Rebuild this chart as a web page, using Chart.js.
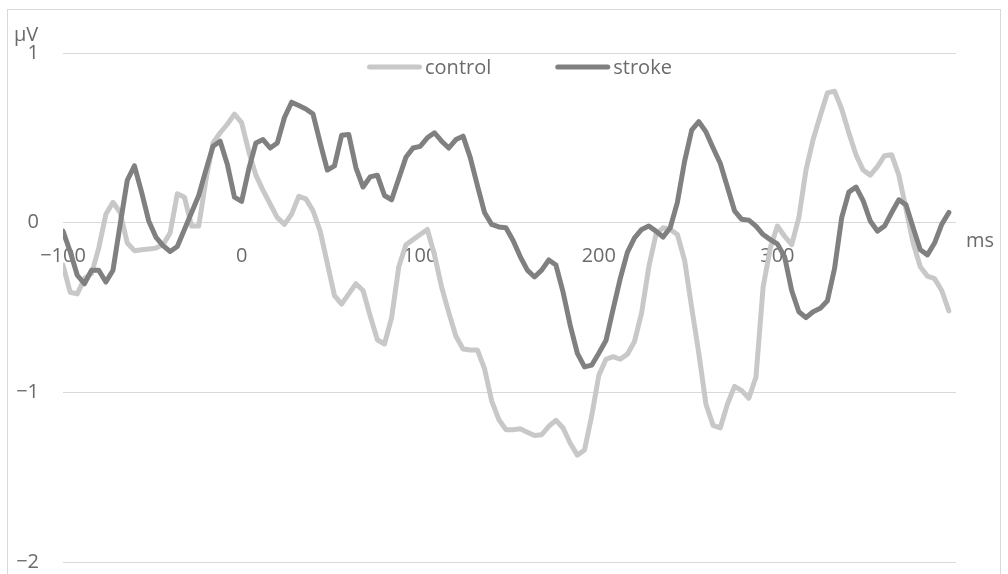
<!DOCTYPE html>
<html>
<head>
<meta charset="utf-8">
<script src="https://cdn.jsdelivr.net/npm/chart.js@4/dist/chart.umd.min.js"></script>
<style>
  html, body { margin: 0; padding: 0; background: #ffffff; overflow: hidden; }
  #erp { display: block; }
</style>
</head>
<body>
<canvas id="erp" width="1008" height="574"></canvas>
<script>
// Sample times (ms), 4 ms sampling from -100 to 396
const timesMs = [
  -100, -96, -92, -88, -84, -80, -76, -72, -68, -64, -60, -56, -52, -48, -44, -40, -36, -32, -28, -24,
  -20, -16, -12, -8, -4, 0, 4, 8, 12, 16, 20, 24, 28, 32, 36, 40, 44, 48, 52, 56,
  60, 64, 68, 72, 76, 80, 84, 88, 92, 96, 100, 104, 108, 112, 116, 120, 124, 128, 132, 136,
  140, 144, 148, 152, 156, 160, 164, 168, 172, 176, 180, 184, 188, 192, 196, 200, 204, 208, 212, 216,
  220, 224, 228, 232, 236, 240, 244, 248, 252, 256, 260, 264, 268, 272, 276, 280, 284, 288, 292, 296,
  300, 304, 308, 312, 316, 320, 324, 328, 332, 336, 340, 344, 348, 352, 356, 360, 364, 368, 372, 376,
  380, 384, 388, 392, 396
];

// Grand-average amplitudes (µV)
const controlUv = [
  -0.25, -0.41, -0.42, -0.33, -0.30, -0.15, 0.05, 0.12, 0.06, -0.12,
  -0.165, -0.16, -0.155, -0.15, -0.13, -0.06, 0.17, 0.15, -0.02, -0.02,
  0.25, 0.47, 0.53, 0.58, 0.64, 0.59, 0.42, 0.28, 0.19, 0.11,
  0.03, -0.01, 0.05, 0.155, 0.14, 0.07, -0.05, -0.24, -0.43, -0.48,
  -0.42, -0.36, -0.40, -0.55, -0.69, -0.715, -0.56, -0.26, -0.13, -0.10,
  -0.07, -0.04, -0.19, -0.38, -0.53, -0.67, -0.745, -0.75, -0.75, -0.86,
  -1.05, -1.16, -1.22, -1.22, -1.215, -1.235, -1.255, -1.25, -1.20, -1.165,
  -1.21, -1.30, -1.37, -1.34, -1.14, -0.90, -0.805, -0.79, -0.805, -0.775,
  -0.70, -0.53, -0.26, -0.07, -0.03, -0.04, -0.07, -0.22, -0.50, -0.77,
  -1.07, -1.195, -1.21, -1.07, -0.965, -0.99, -1.035, -0.91, -0.38, -0.15,
  -0.02, -0.08, -0.13, 0.03, 0.31, 0.49, 0.63, 0.765, 0.775, 0.67,
  0.53, 0.40, 0.31, 0.28, 0.33, 0.395, 0.40, 0.28, 0.08, -0.12,
  -0.26, -0.315, -0.33, -0.40, -0.52
];

const strokeUv = [
  -0.05, -0.17, -0.31, -0.36, -0.28, -0.28, -0.35, -0.28, -0.01, 0.25,
  0.335, 0.18, 0.01, -0.085, -0.135, -0.17, -0.14, -0.04, 0.06, 0.16,
  0.31, 0.45, 0.48, 0.345, 0.15, 0.125, 0.315, 0.47, 0.49, 0.44,
  0.47, 0.62, 0.71, 0.69, 0.67, 0.64, 0.47, 0.31, 0.335, 0.515,
  0.52, 0.325, 0.21, 0.27, 0.28, 0.16, 0.135, 0.26, 0.385, 0.44,
  0.45, 0.50, 0.53, 0.48, 0.44, 0.49, 0.51, 0.385, 0.22, 0.06,
  -0.01, -0.025, -0.03, -0.105, -0.20, -0.28, -0.32, -0.28, -0.22, -0.25,
  -0.41, -0.605, -0.77, -0.85, -0.84, -0.77, -0.695, -0.51, -0.33, -0.175,
  -0.09, -0.04, -0.02, -0.05, -0.085, -0.03, 0.12, 0.36, 0.545, 0.595,
  0.535, 0.44, 0.35, 0.21, 0.07, 0.02, 0.015, -0.02, -0.07, -0.10,
  -0.125, -0.2, -0.40, -0.525, -0.56, -0.525, -0.505, -0.46, -0.27, 0.03,
  0.18, 0.21, 0.13, 0.01, -0.05, -0.02, 0.06, 0.135, 0.105, -0.03,
  -0.16, -0.19, -0.12, -0.01, 0.06
];

const seriesNames = ['control', 'stroke'];
const xTickValues = [-100, 0, 100, 200, 300];
const yTickValues = [1, 0, -1, -2];
const xUnit = 'ms';
const yUnit = 'µV';

const FONT = '"Open Sans", "Liberation Sans", sans-serif';
const TEXT = '#6b6b6b';
const GRID = '#d9d9d9';
const minus = v => String(v).replace('-', '\u2212');

function toPoints(values) {
  return timesMs.map((t, i) => ({ x: t, y: values[i] }));
}

// Outer frame, unit labels and the in-plot series key
const decorations = {
  id: 'decorations',
  beforeDraw(chart) {
    const { ctx } = chart;
    ctx.save();
    ctx.strokeStyle = GRID;
    ctx.lineWidth = 1;
    ctx.strokeRect(7.5, 9.5, 993, 580);
    ctx.restore();
  },
  afterDraw(chart) {
    const { ctx } = chart;
    ctx.save();
    ctx.font = '20px ' + FONT;
    ctx.fillStyle = TEXT;
    ctx.textBaseline = 'middle';
    ctx.textAlign = 'left';
    ctx.fillText(yUnit, 14, 35);
    ctx.fillText(xUnit, 966, 241);

    // series key
    let x = 367;
    const y = 67;
    chart.data.datasets.slice().sort((a, b) => a.keyIndex - b.keyIndex).forEach(ds => {
      ctx.strokeStyle = ds.borderColor;
      ctx.lineWidth = ds.borderWidth;
      ctx.lineCap = 'round';
      ctx.beginPath();
      ctx.moveTo(x + 2.5, y);
      ctx.lineTo(x + 52.5, y);
      ctx.stroke();
      ctx.fillStyle = TEXT;
      const tx = x + 58;
      ctx.fillText(ds.label, tx, y + 1);
      x = tx + ctx.measureText(ds.label).width + 64;
    });
    ctx.restore();
  }
};

new Chart(document.getElementById('erp'), {
  type: 'line',
  data: {
    datasets: [
      {
        label: seriesNames[0],
        keyIndex: 0,
        data: toPoints(controlUv),
        borderColor: '#c8c8c8',
        borderWidth: 5,
        borderJoinStyle: 'round',
        borderCapStyle: 'round',
        pointRadius: 0,
        tension: 0,
        order: 1
      },
      {
        label: seriesNames[1],
        keyIndex: 1,
        data: toPoints(strokeUv),
        borderColor: '#808080',
        borderWidth: 5,
        borderJoinStyle: 'round',
        borderCapStyle: 'round',
        pointRadius: 0,
        tension: 0,
        order: 0
      }
    ]
  },
  options: {
    responsive: false,
    animation: false,
    devicePixelRatio: 1,
    layout: { padding: { left: 0, right: 52, top: 53, bottom: 12 } },
    plugins: {
      legend: { display: false },
      tooltip: { enabled: false }
    },
    scales: {
      x: {
        type: 'linear',
        position: { y: 0 },
        min: -100,
        max: 400,
        afterBuildTicks(scale) {
          scale.ticks = xTickValues.map(v => ({ value: v }));
        },
        afterFit(scale) {
          scale.height = 0;
          scale.paddingLeft = 0;
          scale.paddingRight = 0;
        },
        grid: { display: false, drawTicks: false },
        border: { display: false },
        ticks: {
          padding: 22,
          maxRotation: 0,
          autoSkip: false,
          color: TEXT,
          font: { family: FONT, size: 20 },
          callback: v => minus(v)
        }
      },
      y: {
        type: 'linear',
        min: -2,
        max: 1,
        afterBuildTicks(scale) {
          scale.ticks = yTickValues.map(v => ({ value: v }));
        },
        afterFit(scale) {
          scale.width = 63;
          scale.paddingTop = 0;
          scale.paddingBottom = 0;
        },
        grid: { color: GRID, lineWidth: 1, drawTicks: false },
        border: { display: false },
        ticks: {
          padding: 24,
          color: TEXT,
          font: { family: FONT, size: 20 },
          callback: v => minus(v)
        }
      }
    }
  },
  plugins: [decorations]
});
</script>
</body>
</html>
